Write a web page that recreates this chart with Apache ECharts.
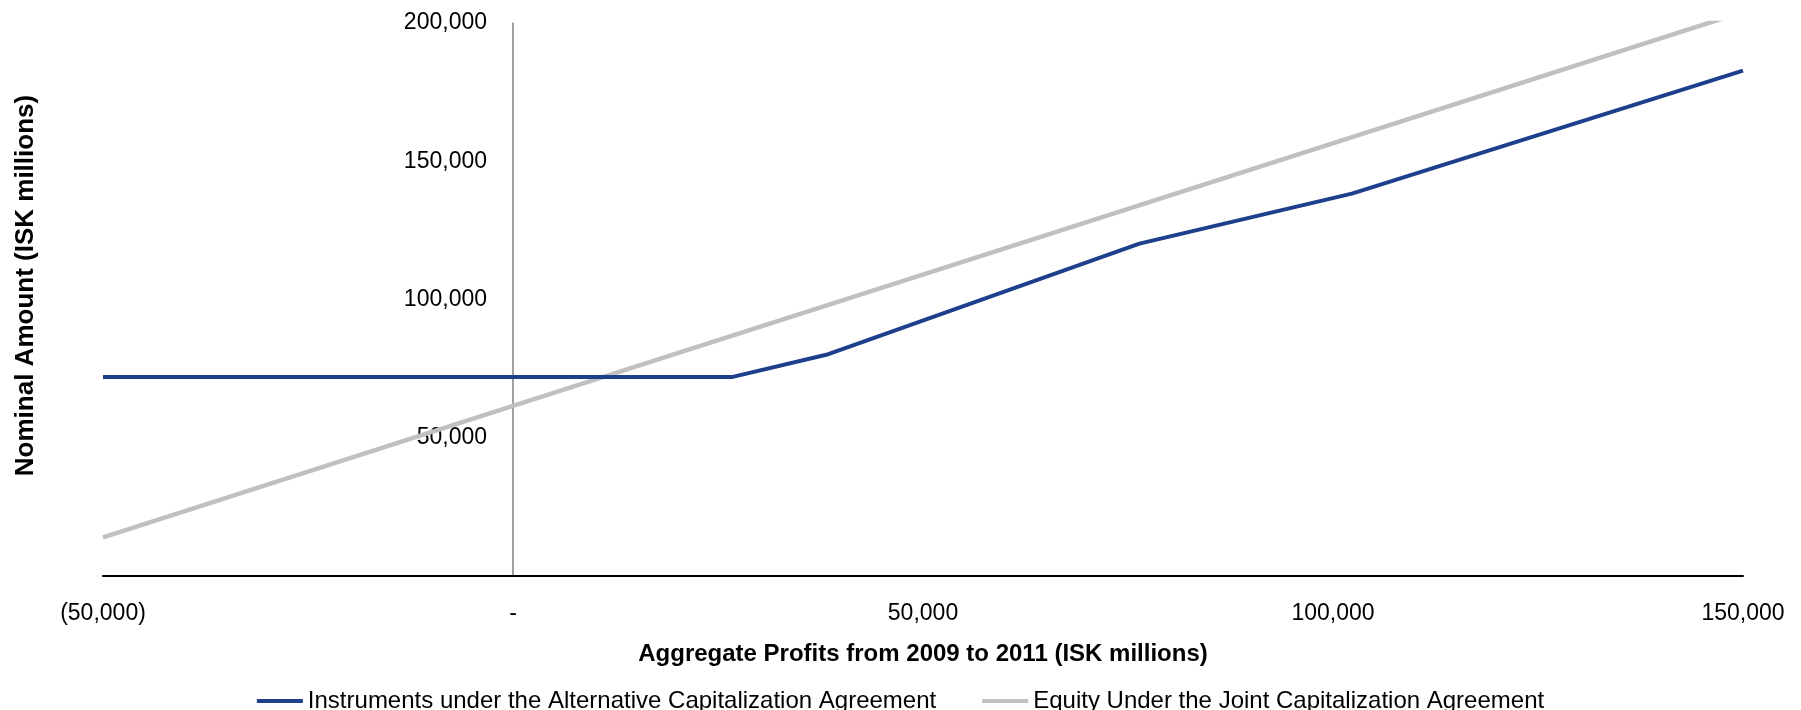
<!DOCTYPE html>
<html>
<head>
<meta charset="utf-8">
<title>Nominal Amount vs Aggregate Profits</title>
<script src="https://cdn.jsdelivr.net/npm/echarts@6/dist/echarts.min.js"></script>
<style>
    html, body { margin: 0; padding: 0; background: #fff; }
    #chart { width: 1801px; height: 710px; }
</style>
</head>
<body>
<div id="chart"></div>
<script>
    // x = aggregate profits, y = nominal amount (ISK millions)
    var alternativeX = [-50000, 26800, 38200, 76400, 102300, 150000];
    var alternativeY = [72000, 72000, 80000, 120200, 138300, 182800];

    var jointX = [-50000, 0, 150000];
    var jointY = [14000, 61500, 204000];

    var seriesNames = [
        'Instruments under the Alternative Capitalization Agreement',
        'Equity Under the Joint Capitalization Agreement'
    ];

    var xTicks = [-50000, 0, 50000, 100000, 150000];
    var yTicks = [0, 50000, 100000, 150000, 200000];

    const FONT = '"Liberation Sans", Arial, sans-serif';

    function fmt(v) {
        if (v === 0) return '-';
        let s = Math.abs(v).toString().replace(/\B(?=(\d{3})+(?!\d))/g, ',');
        return v < 0 ? '(' + s + ')' : s;
    }

    function pairs(xs, ys) {
        return xs.map(function (x, i) { return [x, ys[i]]; });
    }

    let chart = echarts.init(document.getElementById('chart'));

    chart.setOption({
        animation: false,
        textStyle: { fontFamily: FONT },
        grid: {
            left: 103, right: 58, top: 23, bottom: 134,
            containLabel: false,
            outerBoundsMode: 'none'
        },
        legend: {
            top: 684,
            left: 'center',
            itemWidth: 46,
            itemHeight: 4,
            itemGap: 46,
            textStyle: { fontSize: 24, color: '#000', fontFamily: FONT },
            data: [
                { name: seriesNames[0], icon: 'rect' },
                { name: seriesNames[1], icon: 'rect' }
            ]
        },
        xAxis: {
            type: 'value',
            min: xTicks[0],
            max: xTicks[xTicks.length - 1],
            interval: 50000,
            name: 'Aggregate Profits from 2009 to 2011 (ISK millions)',
            nameLocation: 'middle',
            nameGap: 66,
            nameTextStyle: { fontSize: 24, fontWeight: 'bold', color: '#000', fontFamily: FONT },
            axisLine: { onZero: false, lineStyle: { color: '#000', width: 2 } },
            axisTick: { show: false },
            splitLine: { show: false },
            axisLabel: {
                fontSize: 23,
                color: '#000',
                margin: 26,
                formatter: fmt
            }
        },
        yAxis: {
            type: 'value',
            min: yTicks[0],
            max: yTicks[yTicks.length - 1],
            interval: 50000,
            // sits on x = 0: (0 - (-50,000)) / 200,000 of the 1640px plot width
            offset: -410,
            name: 'Nominal Amount (ISK millions)',
            nameLocation: 'middle',
            nameGap: 474,
            nameTextStyle: {
                fontSize: 26,
                fontWeight: 'bold',
                color: '#000',
                fontFamily: FONT,
                padding: [0, 0, 0, 28]
            },
            axisLine: { show: true, onZero: false, lineStyle: { color: '#808080', width: 1.5 } },
            axisTick: { show: false },
            splitLine: { show: false },
            axisLabel: {
                fontSize: 23,
                color: '#000',
                margin: 26,
                showMinLabel: true,
                formatter: fmt
            }
        },
        series: [
            {
                name: seriesNames[0],
                type: 'line',
                symbol: 'none',
                z: 3,
                itemStyle: { color: '#1E3F8B' },
                lineStyle: { color: '#1E3F8B', width: 4 },
                data: pairs(alternativeX, alternativeY)
            },
            {
                name: seriesNames[1],
                type: 'line',
                symbol: 'none',
                z: 2,
                itemStyle: { color: '#C0C0C0' },
                lineStyle: { color: '#C0C0C0', width: 4.5 },
                data: pairs(jointX, jointY)
            }
        ]
    });
</script>
</body>
</html>
